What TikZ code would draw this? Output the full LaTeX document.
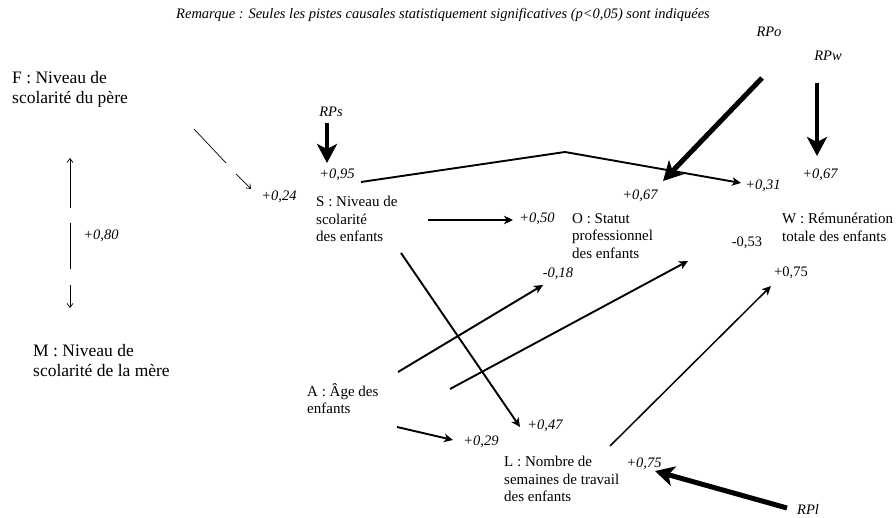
\documentclass[tikz,border=0pt]{standalone}
\usepackage{fontspec}
\setmainfont{Liberation Serif}
\usetikzlibrary{arrows.meta}
\begin{document}
\begin{tikzpicture}[x=1pt,y=-1pt,
  bigtxt/.style={font=\fontsize{17.5}{20.5}\selectfont, align=left, anchor=north west, inner sep=0pt},
  vartxt/.style={font=\fontsize{15}{17.5}\selectfont, align=left, anchor=north west, inner sep=0pt},
  coef/.style={font=\fontsize{14.5}{17}\selectfont\itshape, inner sep=0pt},
  coefup/.style={font=\fontsize{14.5}{17}\selectfont, inner sep=0pt},
  link/.style={line width=1.9pt, -{Stealth[length=9pt,width=8.5pt,inset=2.5pt]}},
  thinlink/.style={line width=0.7pt, -{Straight Barb[length=4pt,width=6pt]}},
  thinseg/.style={line width=0.7pt},
  resid/.style={line width=4.5pt, -{Stealth[length=19pt,width=20pt,inset=5pt]}},
]
\useasboundingbox (0,0) rectangle (896,518);

% note
\node[coef] (note) at (443,15) {Remarque : Seules les pistes causales statistiquement significatives (p<0,05) sont indiquées};

% variables
\node[bigtxt] (F) at (12,71) {F : Niveau de\\scolarité du père};
\node[bigtxt] (M) at (33,344) {M : Niveau de\\scolarité de la mère};
\node[vartxt] (S) at (316,196) {S : Niveau de\\scolarité\\des enfants};
\node[vartxt] (O) at (572,213) {O : Statut\\professionnel\\des enfants};
\node[vartxt] (W) at (782,213) {W : Rémunération\\totale des enfants};
\node[vartxt] (A) at (307,383) {A : Âge des\\enfants};
\node[vartxt] (L) at (504,456) {L : Nombre de\\semaines de travail\\des enfants};

% residual paths
\node[coef] (RPs) at (331,112) {RPs};
\node[coef] (RPo) at (769,32) {RPo};
\node[coef] (RPw) at (828,56) {RPw};
\node[coef] (RPl) at (808,509) {RPl};

% coefficients
\node[coef] (c95) at (337,175) {+0,95};
\node[coef] (c24) at (279,197) {+0,24};
\node[coef] (c80) at (101,236) {+0,80};
\node[coef] (c50) at (537,219) {+0,50};
\node[coef] (c67o) at (640,196) {+0,67};
\node[coef] (c31) at (763,186) {+0,31};
\node[coef] (c67w) at (820,175) {+0,67};
\node[coefup] (c53) at (747,243) {-0,53};
\node[coefup] (c75w) at (791,273) {+0,75};
\node[coef] (c18) at (558,274) {-0,18};
\node[coef] (c47) at (545,426) {+0,47};
\node[coef] (c29) at (481,442) {+0,29};
\node[coef] (c75l) at (644,464) {+0,75};

% connector end points
\coordinate (fs1) at (194,129);
\coordinate (fs2) at (226,163);
\coordinate (fs3) at (236,174);
\coordinate (fs4) at (251,189);
\coordinate (fm1) at (70,158);
\coordinate (fm2) at (70,208);
\coordinate (fm3) at (70,223);
\coordinate (fm4) at (70,269);
\coordinate (fm5) at (70,285);
\coordinate (fm6) at (70,308);
\coordinate (rps1) at (327,123);
\coordinate (rps2) at (327,163);
\coordinate (rpo1) at (762,78);
\coordinate (rpo2) at (663,181);
\coordinate (rpw1) at (817,83);
\coordinate (rpw2) at (817,156);
\coordinate (rpl1) at (787,508);
\coordinate (rpl2) at (655,471);
\coordinate (sw1) at (361,182);
\coordinate (sw2) at (565,152);
\coordinate (sw3) at (741,183);
\coordinate (so1) at (428,220);
\coordinate (so2) at (513,220);
\coordinate (ao1) at (398,372);
\coordinate (ao2) at (543,285);
\coordinate (aw1) at (450,389);
\coordinate (aw2) at (688,261);
\coordinate (sl1) at (401,253);
\coordinate (sl2) at (520,427);
\coordinate (al1) at (397,427);
\coordinate (al2) at (453,440);
\coordinate (lw1) at (610,446);
\coordinate (lw2) at (771,286);

% F -> S
\draw[thinseg] (fs1) -- (fs2);
\draw[thinlink] (fs3) -- (fs4);
% F <-> M
\draw[thinseg, {Straight Barb[length=4pt,width=6pt]}-] (fm1) -- (fm2);
\draw[thinseg] (fm3) -- (fm4);
\draw[thinlink] (fm5) -- (fm6);

% residuals
\draw[resid] (rps1) -- (rps2);
\draw[resid, line width=5pt] (rpo1) -- (rpo2);
\draw[resid] (rpw1) -- (rpw2);
\draw[resid, line width=5pt] (rpl1) -- (rpl2);

% causal paths
\draw[link] (sw1) -- (sw2) -- (sw3);
\draw[link] (so1) -- (so2);
\draw[link] (ao1) -- (ao2);
\draw[link] (aw1) -- (aw2);
\draw[link] (sl1) -- (sl2);
\draw[link] (al1) -- (al2);
\draw[link, line width=1.5pt] (lw1) -- (lw2);
\end{tikzpicture}
\end{document}
